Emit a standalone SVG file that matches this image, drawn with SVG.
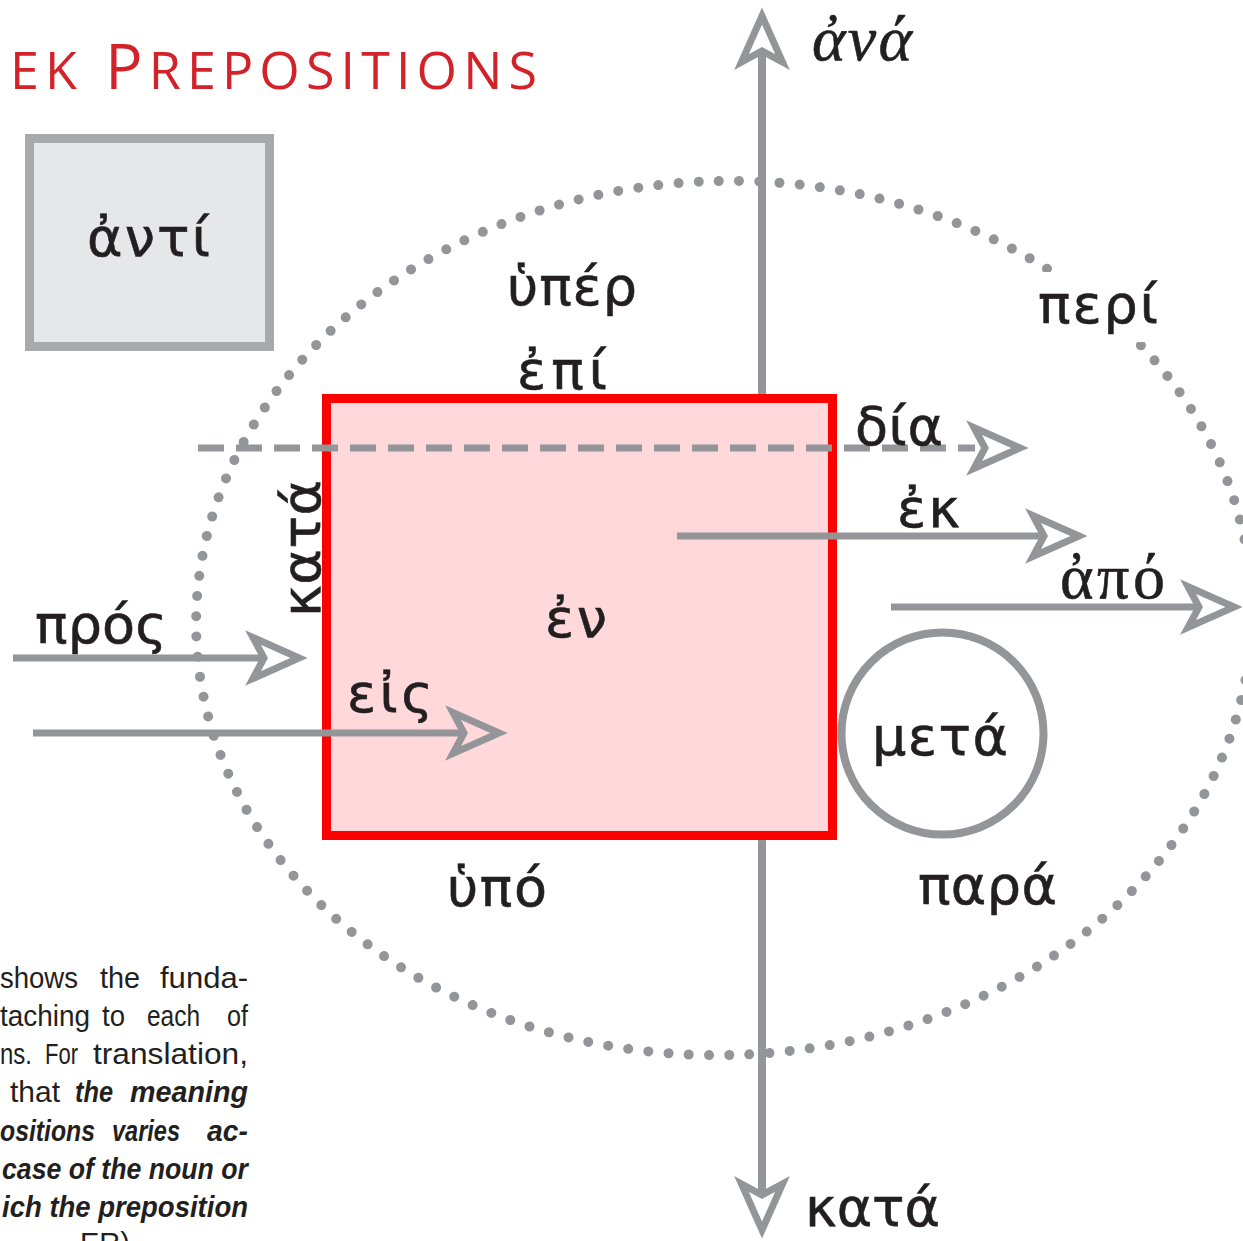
<svg xmlns="http://www.w3.org/2000/svg" xmlns:xlink="http://www.w3.org/1999/xlink" width="1243" height="1241" viewBox="0 0 1243 1241">
<style>
.lbl{font-family:"DejaVu Sans","Noto Sans",sans-serif;font-size:54px;fill:#231f20;stroke:#231f20;stroke-width:0.6}
.serif{font-family:"Liberation Serif","DejaVu Serif",serif;font-size:64px;fill:#231f20;stroke:#231f20;stroke-width:0.6}
.body{font-family:"Liberation Sans",Arial,sans-serif;font-size:29px;fill:#231f20}
.bi{font-weight:bold;font-style:italic}
.shaft{stroke:#939598;stroke-width:7;fill:none}
.head{stroke:#939598;stroke-width:7;fill:none;stroke-linejoin:miter;stroke-miterlimit:10}
</style>
<defs>
<path id="ah" class="head" d="M -8 0 L -54 -20.5 L -43 0 L -54 20.5 Z"/>
</defs>
<rect width="1243" height="1241" fill="#ffffff"/>

<g id="title">
<text x="10" y="89" textLength="527" lengthAdjust="spacing" font-family="'Open Sans','Noto Sans',sans-serif" fill="#d2232a"><tspan font-size="52">EK</tspan><tspan font-size="62"> P</tspan><tspan font-size="52">REPOSITIONS</tspan></text>
</g>

<g id="orbit">
<ellipse cx="724" cy="618" rx="528" ry="437" transform="rotate(-2 724 618)" fill="none" stroke="#939598" stroke-width="10" stroke-linecap="round" stroke-dasharray="0 1" pathLength="150"/>
</g>

<g id="axis-vertical">
<line x1="762" y1="51" x2="762" y2="1195" stroke="#939598" stroke-width="8"/>
</g>

<g id="node-en">
<rect x="326.5" y="398.5" width="506" height="437" fill="#ffd8db" stroke="#ff0000" stroke-width="9"/>
<text class="lbl" x="545" y="637" textLength="62" lengthAdjust="spacing">ἐν</text>
</g>

<g id="connectors">
<use xlink:href="#ah" transform="translate(762,8) rotate(-90)"/>
<use xlink:href="#ah" transform="translate(762,1238) rotate(90)"/>
<line x1="198" y1="448" x2="975" y2="448" stroke="#939598" stroke-width="7" stroke-dasharray="26 12"/>
<use xlink:href="#ah" transform="translate(1028,448)"/>
<line class="shaft" x1="677" y1="536" x2="1044" y2="536"/>
<use xlink:href="#ah" transform="translate(1087,536)"/>
<line class="shaft" x1="891" y1="607" x2="1199" y2="607"/>
<use xlink:href="#ah" transform="translate(1242,607)"/>
<line class="shaft" x1="13" y1="658" x2="264" y2="658"/>
<use xlink:href="#ah" transform="translate(307,658)"/>
<line class="shaft" x1="33" y1="733" x2="464" y2="733"/>
<use xlink:href="#ah" transform="translate(507,733)"/>
</g>

<g id="node-anti">
<rect x="29.5" y="138.5" width="240" height="208" fill="#e6e7e8" stroke="#a7a9ac" stroke-width="9"/>
<text class="lbl" x="87" y="256" textLength="123" lengthAdjust="spacing">ἀντί</text>
</g>

<g id="node-meta">
<circle cx="942.5" cy="733.5" r="101" fill="#ffffff" stroke="#939598" stroke-width="8"/>
<text class="lbl" x="872" y="755" textLength="136" lengthAdjust="spacing">μετά</text>
</g>

<g id="node-ana"><text class="serif" font-style="italic" x="812" y="60" textLength="100" lengthAdjust="spacing">ἀνά</text></g>
<g id="node-hyper"><text class="lbl" x="507" y="305" textLength="130" lengthAdjust="spacing">ὑπέρ</text></g>
<g id="node-epi"><text class="lbl" x="517" y="389" textLength="90" lengthAdjust="spacing">ἐπί</text></g>
<g id="node-peri"><rect x="1030" y="272" width="136" height="70" fill="#ffffff"/><text class="lbl" x="1038" y="323" textLength="120" lengthAdjust="spacing">περί</text></g>
<g id="node-dia"><text class="lbl" x="855" y="445" textLength="88" lengthAdjust="spacing">δία</text></g>
<g id="node-ek"><text class="lbl" x="897" y="527" textLength="63" lengthAdjust="spacing">ἐκ</text></g>
<g id="node-apo"><text class="serif" x="1060" y="598" textLength="105" lengthAdjust="spacing">ἀπό</text></g>
<g id="node-pros"><text class="lbl" x="35" y="643" textLength="132" lengthAdjust="spacing">πρός</text></g>
<g id="node-kata-side"><text class="lbl" transform="translate(320,617) rotate(-90)" x="0" y="0" textLength="137" lengthAdjust="spacing">κατά</text></g>
<g id="node-eis"><text class="lbl" x="347" y="712" textLength="86" lengthAdjust="spacing">εἰς</text></g>
<g id="node-hypo"><text class="lbl" x="447" y="906" textLength="100" lengthAdjust="spacing">ὑπό</text></g>
<g id="node-para"><text class="lbl" x="918" y="904" textLength="139" lengthAdjust="spacing">παρά</text></g>
<g id="node-kata-down"><text class="lbl" x="805" y="1226" textLength="135" lengthAdjust="spacing">κατά</text></g>

<g id="caption" class="body">
<text y="988"><tspan x="0" textLength="78" lengthAdjust="spacingAndGlyphs">shows</tspan><tspan x="100" textLength="40" lengthAdjust="spacingAndGlyphs">the</tspan><tspan x="160" textLength="88" lengthAdjust="spacingAndGlyphs">funda-</tspan></text>
<text y="1026"><tspan x="0" textLength="90" lengthAdjust="spacingAndGlyphs">taching</tspan><tspan x="102" textLength="23" lengthAdjust="spacingAndGlyphs">to</tspan><tspan x="147" textLength="53" lengthAdjust="spacingAndGlyphs">each</tspan><tspan x="227" textLength="21" lengthAdjust="spacingAndGlyphs">of</tspan></text>
<text y="1064"><tspan x="0" textLength="32" lengthAdjust="spacingAndGlyphs">ns.</tspan><tspan x="45" textLength="33" lengthAdjust="spacingAndGlyphs">For</tspan><tspan x="93" textLength="155" lengthAdjust="spacingAndGlyphs">translation,</tspan></text>
<text y="1102"><tspan x="10" textLength="50" lengthAdjust="spacingAndGlyphs">that</tspan><tspan class="bi" x="75" textLength="38" lengthAdjust="spacingAndGlyphs">the</tspan><tspan class="bi" x="130" textLength="118" lengthAdjust="spacingAndGlyphs">meaning</tspan></text>
<text y="1141" class="bi"><tspan x="0" textLength="95" lengthAdjust="spacingAndGlyphs">ositions</tspan><tspan x="112" textLength="68" lengthAdjust="spacingAndGlyphs">varies</tspan><tspan x="207" textLength="41" lengthAdjust="spacingAndGlyphs">ac-</tspan></text>
<text y="1179" class="bi" x="2" textLength="246" lengthAdjust="spacingAndGlyphs">case of the noun or</text>
<text y="1217" class="bi" x="2" textLength="246" lengthAdjust="spacingAndGlyphs">ich the preposition</text>
<text y="1253" x="80">ER)</text>
</g>
</svg>
